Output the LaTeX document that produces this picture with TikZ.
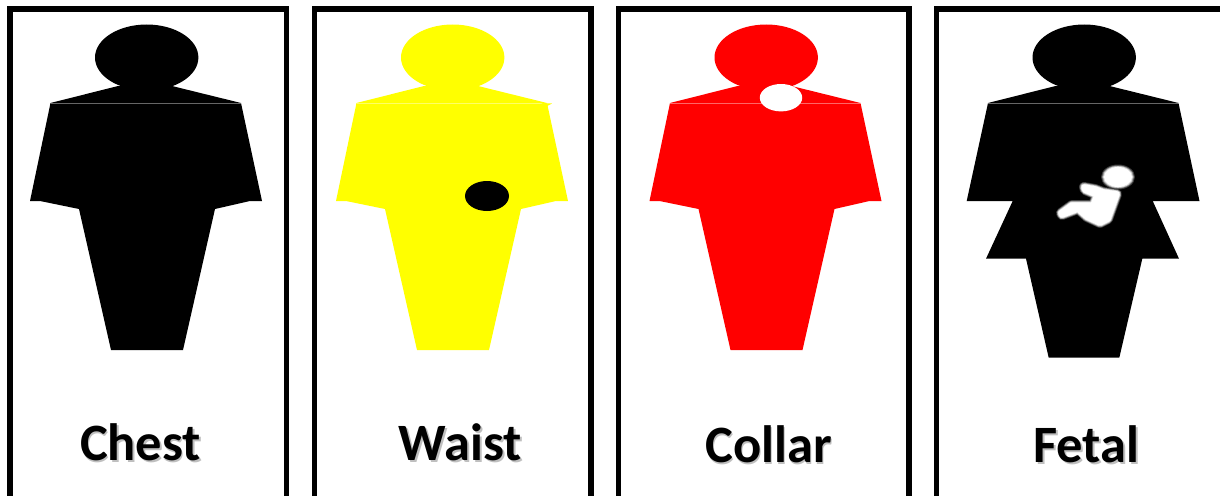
\documentclass[tikz,border=0pt]{standalone}
\usepackage{fontspec}
\setmainfont{Carlito}
\definecolor{pureyellow}{RGB}{255,255,0}
\definecolor{purered}{RGB}{255,0,0}
\definecolor{haloa}{RGB}{60,60,60}
\definecolor{halob}{RGB}{140,140,140}
\definecolor{haloc}{RGB}{215,215,215}
\tikzset{
  x=1pt,y=-1pt,
  frameline/.style={draw=black,line width=5.8pt,miter limit=10},
  seam/.style={draw=white,opacity=.4,line width=.7pt},
  label/.style={inner sep=0pt,anchor=base,font=\fontsize{52.5}{62}\selectfont\bfseries,text=black},
  labelshadow/.style={inner sep=0pt,anchor=base,font=\fontsize{52.5}{62}\selectfont\bfseries,text=black,opacity=.25},
  softedge/.style={line join=round,draw=#1,fill=#1},
}
\newcommand{\figurehead}[1]{\fill[#1] (146.7,57.5) ellipse [x radius=51.7,y radius=33];}
\newcommand{\figureplain}[1]{%
  \figurehead{#1}
  \fill[#1] (50.5,103) -- (118,86) -- (172,86) -- (241,103) -- (262,201) -- (250,201) -- (215,209)
    -- (183,350) -- (111,350) -- (79,209) -- (40,201) -- (30,201) -- cycle;
  \draw[seam] (50.5,103.3) -- (241,103.3);
}
\begin{document}
\begin{tikzpicture}
\clip (0,0) rectangle (1220,495);
\fill[white] (0,0) rectangle (1220,495);

% frames
\draw[frameline] (10,520) -- (10,9) -- (286.5,9) -- (286.5,520);
\draw[frameline] (314.5,520) -- (314.5,9) -- (591,9) -- (591,520);
\draw[frameline] (618.5,520) -- (618.5,9) -- (909,9) -- (909,520);
\draw[frameline] (936.5,520) -- (936.5,9) -- (1230,9);

% Chest
\figureplain{black}

% Waist
\begin{scope}[xshift=306pt]
\figureplain{pureyellow}
\fill[pureyellow] (235,103) -- (246,103.5) -- (241,106) -- cycle;
\end{scope}
\fill[black] (487,196) ellipse [x radius=22,y radius=15];

% Collar
\begin{scope}[xshift=619.5pt]
\figureplain{purered}
\end{scope}
\fill[white] (781,97.7) ellipse [x radius=21.2,y radius=13.7];

% Fetal
\begin{scope}[xshift=937.5pt]
\figurehead{black}
\fill[black] (50.5,103) -- (118,86) -- (172,86) -- (241,103) -- (262,201) -- (215.2,201)
  -- (241.5,258.7) -- (204.8,258.7) -- (181.8,357.7) -- (111.2,357.7) -- (88.5,258.7)
  -- (48.5,258.7) -- (75.2,201) -- (29.2,201) -- cycle;
\draw[seam] (50.5,103.3) -- (241,103.3);
\end{scope}
% fetus: layers from dark halo to white core
\def\fetusbody{(1084,187) -- (1095,189) -- (1103,192) -- (1117,194) -- (1108,219) -- (1100,223) -- (1087,217) -- (1078,209) -- (1062,215) -- (1061,213) -- (1072,205) -- (1093,205) -- (1097,195) -- (1085,190) -- cycle}
\path[softedge=haloa,line width=10pt] \fetusbody;
\path[softedge=halob,line width=8.5pt] \fetusbody;
\path[softedge=haloc,line width=7pt] \fetusbody;
\path[softedge=white,line width=5.5pt] \fetusbody;
\fill[haloa] (1118,177) ellipse [x radius=17,y radius=12.5];
\fill[halob] (1118,177) ellipse [x radius=16,y radius=11.5];
\fill[haloc] (1118,177) ellipse [x radius=15,y radius=10.8];
\fill[white] (1118,177) ellipse [x radius=14,y radius=10];

% labels
\node[labelshadow] (chestshadow) at (142,462) {Chest};
\node[labelshadow] (waistshadow) at (462,462) {Waist};
\node[labelshadow] (collarshadow) at (770,464) {Collar};
\node[labelshadow] (fetalshadow) at (1088,464) {Fetal};
\node[label] (chest) at (140.5,460.5) {Chest};
\node[label] (waist) at (460.5,460.5) {Waist};
\node[label] (collar) at (768.5,462.5) {Collar};
\node[label] (fetal) at (1086.5,462.5) {Fetal};
\end{tikzpicture}
\end{document}
